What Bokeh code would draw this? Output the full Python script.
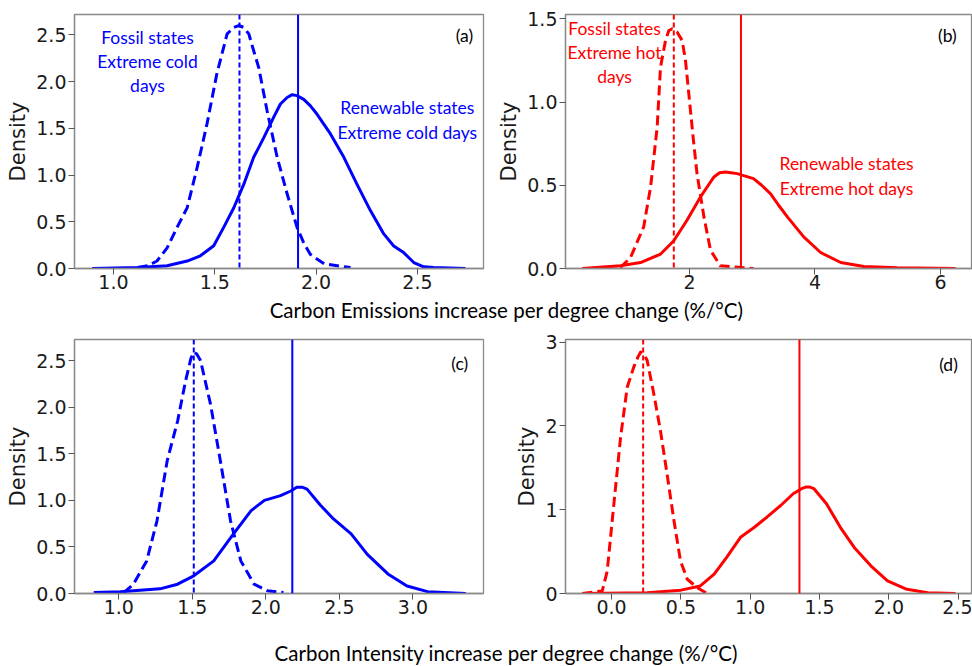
from bokeh.plotting import figure
from bokeh.layouts import column, row
from bokeh.models import Range1d, FixedTicker, PrintfTickFormatter, Span, Label
from bokeh.embed import file_html
from bokeh.resources import INLINE

BLUE = "#0000ff"
RED = "#ff0000"

# ---------------- data ----------------
a_fossil_x = [1.12, 1.17, 1.215, 1.265, 1.314, 1.364, 1.413, 1.462, 1.51, 1.561, 1.594, 1.618, 1.643, 1.668, 1.692, 1.717, 1.758, 1.808, 1.857, 1.906, 1.94, 1.972, 2.04, 2.17]
a_fossil_y = [0.01, 0.03, 0.08, 0.22, 0.44, 0.65, 1.08, 1.55, 2.08, 2.51, 2.58, 2.60, 2.58, 2.51, 2.33, 2.15, 1.69, 1.19, 0.80, 0.44, 0.27, 0.15, 0.05, 0.01]
a_renew_x = [0.895, 1.12, 1.265, 1.364, 1.429, 1.495, 1.544, 1.594, 1.643, 1.692, 1.742, 1.791, 1.824, 1.857, 1.882, 1.906, 1.939, 1.972, 2.005, 2.071, 2.137, 2.202, 2.268, 2.334, 2.383, 2.432, 2.482, 2.531, 2.58, 2.737]
a_renew_y = [0.0, 0.01, 0.03, 0.08, 0.136, 0.243, 0.44, 0.65, 0.90, 1.19, 1.40, 1.62, 1.76, 1.83, 1.86, 1.85, 1.81, 1.74, 1.65, 1.44, 1.19, 0.90, 0.62, 0.37, 0.24, 0.17, 0.064, 0.018, 0.01, 0.0]

b_fossil_x = [0.90, 1.06, 1.27, 1.38, 1.485, 1.538, 1.618, 1.671, 1.724, 1.804, 1.883, 1.936, 1.989, 2.06, 2.12, 2.23, 2.335, 2.49, 3.02]
b_fossil_y = [0.006, 0.066, 0.25, 0.49, 0.85, 1.21, 1.37, 1.43, 1.44, 1.42, 1.37, 1.25, 1.05, 0.78, 0.57, 0.31, 0.11, 0.016, 0.0]
b_renew_x = [0.29, 0.90, 1.22, 1.54, 1.75, 1.96, 2.175, 2.30, 2.39, 2.48, 2.57, 2.66, 2.76, 2.89, 3.02, 3.15, 3.29, 3.42, 3.56, 3.69, 3.82, 4.09, 4.41, 4.78, 5.31, 6.24]
b_renew_y = [0.0, 0.016, 0.036, 0.087, 0.167, 0.29, 0.43, 0.50, 0.55, 0.575, 0.58, 0.575, 0.57, 0.555, 0.54, 0.50, 0.45, 0.38, 0.31, 0.25, 0.19, 0.096, 0.036, 0.012, 0.004, 0.0]

c_fossil_x = [1.034, 1.10, 1.19, 1.26, 1.33, 1.40, 1.454, 1.49, 1.51, 1.53, 1.556, 1.624, 1.69, 1.76, 1.83, 1.92, 2.01, 2.12]
c_fossil_y = [0.01, 0.10, 0.35, 0.78, 1.43, 1.85, 2.28, 2.52, 2.59, 2.57, 2.50, 2.03, 1.43, 0.78, 0.35, 0.10, 0.03, 0.01]
c_renew_x = [0.83, 1.01, 1.28, 1.40, 1.51, 1.646, 1.78, 1.90, 1.99, 2.10, 2.17, 2.21, 2.25, 2.28, 2.37, 2.46, 2.58, 2.69, 2.83, 2.96, 3.10, 3.36]
c_renew_y = [0.01, 0.02, 0.05, 0.10, 0.19, 0.35, 0.64, 0.89, 1.0, 1.05, 1.10, 1.14, 1.14, 1.12, 0.95, 0.80, 0.64, 0.42, 0.21, 0.08, 0.02, 0.0]

d_fossil_x = [-0.21, -0.067, -0.031, 0.017, 0.065, 0.113, 0.16, 0.19, 0.21, 0.235, 0.257, 0.305, 0.353, 0.40, 0.45, 0.497, 0.546, 0.618, 0.69]
d_fossil_y = [0.0, 0.03, 0.27, 1.07, 1.86, 2.46, 2.70, 2.82, 2.88, 2.85, 2.78, 2.38, 1.94, 1.43, 0.87, 0.39, 0.17, 0.07, 0.0]
d_renew_x = [-0.21, 0.257, 0.50, 0.64, 0.74, 0.83, 0.93, 1.03, 1.12, 1.22, 1.31, 1.37, 1.40, 1.43, 1.46, 1.55, 1.65, 1.75, 1.87, 1.99, 2.13, 2.28, 2.48]
d_renew_y = [0.0, 0.01, 0.04, 0.09, 0.23, 0.43, 0.67, 0.79, 0.91, 1.05, 1.19, 1.25, 1.27, 1.27, 1.25, 1.07, 0.79, 0.55, 0.33, 0.15, 0.05, 0.01, 0.0]

means_fossil = {"a": 1.622, "b": 1.75, "c": 1.51, "d": 0.228}
means_renew = {"a": 1.911, "b": 2.82, "c": 2.18, "d": 1.355}

ticks_x = {"a": [1.0, 1.5, 2.0, 2.5], "b": [2, 4, 6], "c": [1.0, 1.5, 2.0, 2.5, 3.0], "d": [0.0, 0.5, 1.0, 1.5, 2.0, 2.5]}
ticks_y = {"a": [0.0, 0.5, 1.0, 1.5, 2.0, 2.5], "b": [0.0, 0.5, 1.0, 1.5], "c": [0.0, 0.5, 1.0, 1.5, 2.0, 2.5], "d": [0, 1, 2, 3]}
fmt_x = {"a": "%.1f", "b": "%d", "c": "%.1f", "d": "%.1f"}
fmt_y = {"a": "%.1f", "b": "%.1f", "c": "%.1f", "d": "%d"}
panel_letters = {"a": "(a)", "b": "(b)", "c": "(c)", "d": "(d)"}

xlabel_top = "Carbon Emissions increase per degree change (%/\u00b0C)"
xlabel_bottom = "Carbon Intensity increase per degree change (%/\u00b0C)"

ANN_FONT = "Lato"
TICK_FONT = "DejaVu Sans"


def make_panel(key, xr, yr, fw, fh, bl, br, bt, fx, fy, rx, ry, color):
    p = figure(frame_width=fw, frame_height=fh, x_range=Range1d(*xr), y_range=Range1d(*yr),
               output_backend="svg", toolbar_location=None,
               min_border_left=bl, min_border_right=br, min_border_top=bt, min_border_bottom=29)
    p.grid.visible = False
    p.outline_line_color = "#8a8a8a"
    p.outline_line_width = 1.3
    p.background_fill_color = "white"
    p.border_fill_color = "white"
    for ax in (p.xaxis[0], p.yaxis[0]):
        ax.axis_line_color = "#8a8a8a"
        ax.axis_line_width = 1.3
        ax.major_tick_line_color = "#555555"
        ax.major_tick_out = 6
        ax.major_tick_in = 0
        ax.minor_tick_out = 0
        ax.minor_tick_in = 0
        ax.major_label_text_font = TICK_FONT
        ax.major_label_text_font_size = "19px"
        ax.major_label_text_color = "#1a1a1a"
        ax.major_label_standoff = 0
    p.xaxis.ticker = FixedTicker(ticks=ticks_x[key])
    p.yaxis.ticker = FixedTicker(ticks=ticks_y[key])
    p.xaxis.formatter = PrintfTickFormatter(format=fmt_x[key])
    p.yaxis.formatter = PrintfTickFormatter(format=fmt_y[key])
    p.yaxis.major_label_standoff = 2
    p.yaxis.axis_label = "Density"
    p.yaxis.axis_label_text_font = TICK_FONT
    p.yaxis.axis_label_text_font_size = "21px"
    p.yaxis.axis_label_text_font_style = "normal"
    p.yaxis.axis_label_text_color = "#1a1a1a"
    p.yaxis.axis_label_standoff = 3

    p.line(fx, fy, line_color=color, line_width=3, line_dash="10 5", line_join="round")
    p.line(rx, ry, line_color=color, line_width=3, line_join="round")
    p.add_layout(Span(location=means_fossil[key], dimension="height", line_color=color,
                      line_width=2, line_dash="5 3"))
    p.add_layout(Span(location=means_renew[key], dimension="height", line_color=color,
                      line_width=2))
    return p


def add_text(p, x, y, text, color, size="17.5px"):
    p.add_layout(Label(x=x, y=y, text=text, text_color=color, text_font=ANN_FONT,
                       text_font_size=size, text_align="center", text_baseline="middle"))


# panel (a)
pa = make_panel("a", (0.808, 2.826), (0, 2.718), 409, 254, 74, 8, 14,
                a_fossil_x, a_fossil_y, a_renew_x, a_renew_y, BLUE)
for yy, t in zip([2.473, 2.216, 1.958], ["Fossil states", "Extreme cold", "days"]):
    add_text(pa, 1.168, yy, t, BLUE)
for yy, t in zip([1.722, 1.455], ["Renewable states", "Extreme cold days"]):
    add_text(pa, 2.450, yy, t, BLUE)
add_text(pa, 2.732, 2.494, panel_letters["a"], "black")

# panel (b)
pb = make_panel("b", (0.024, 6.51), (0, 1.526), 407, 254, 74, 0, 14,
                b_fossil_x, b_fossil_y, b_renew_x, b_renew_y, RED)
for yy, t in zip([1.442, 1.298, 1.153], ["Fossil states", "Extreme hot", "days"]):
    add_text(pb, 0.805, yy, t, RED)
for yy, t in zip([0.630, 0.480], ["Renewable states", "Extreme hot days"]):
    add_text(pb, 4.502, yy, t, RED)
add_text(pb, 6.11, 1.400, panel_letters["b"], "black")

# panel (c)
pc = make_panel("c", (0.699, 3.48), (0, 2.726), 409, 254, 74, 8, 8,
                c_fossil_x, c_fossil_y, c_renew_x, c_renew_y, BLUE)
add_text(pc, 3.318, 2.467, panel_letters["c"], "black")

# panel (d)
pd = make_panel("d", (-0.332, 2.603), (0, 3.03), 407, 254, 74, 0, 8,
                d_fossil_x, d_fossil_y, d_renew_x, d_renew_y, RED)
add_text(pd, 2.43, 2.73, panel_letters["d"], "black")


def label_strip(h, text, ypos):
    s = figure(frame_width=972, frame_height=h, x_range=Range1d(0, 972), y_range=Range1d(h, 0),
               output_backend="svg", toolbar_location=None, min_border=0)
    s.axis.visible = False
    s.grid.visible = False
    s.outline_line_color = None
    s.add_layout(Label(x=506, y=ypos, text=text, text_color="black", text_font=ANN_FONT,
                       text_font_size="20.5px", text_align="center", text_baseline="middle"))
    return s


strip1 = label_strip(34, xlabel_top, 12)
strip2 = label_strip(44, xlabel_bottom, 30)

layout = column(row(pa, pb), strip1, row(pc, pd), strip2)
open("out.html", "w").write(file_html(layout, INLINE))
